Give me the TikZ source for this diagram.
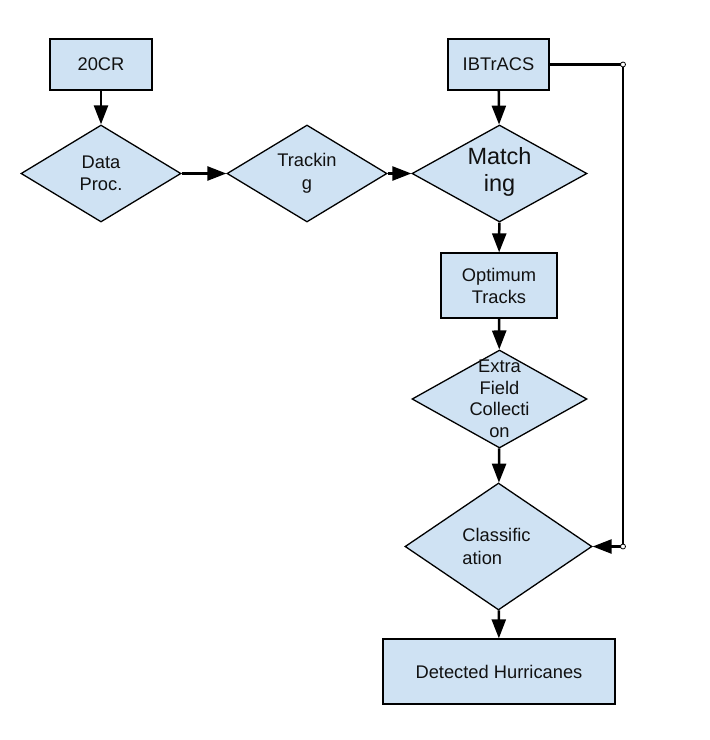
\documentclass[tikz,border=0pt]{standalone}
\usepackage{fontspec}
\setmainfont{Liberation Sans}
\usetikzlibrary{shapes.geometric,arrows.meta}
\definecolor{boxfill}{HTML}{CFE2F3}
\definecolor{txtcol}{HTML}{111111}
\tikzset{
  box/.style={draw=black, line width=1.3pt, fill=boxfill, rectangle, inner sep=0pt, text=txtcol, align=center,
    font=\fontsize{18.3}{22}\selectfont},
  dia/.style={draw=black, line width=1.3pt, fill=boxfill, diamond, inner sep=0pt},
  txt/.style={text=txtcol, align=center, inner sep=0pt, font=\fontsize{18.3}{22.5}\selectfont},
  conn/.style={line width=2.5pt, -{Triangle[length=19pt,width=14pt]}},
  plain/.style={line width=2.5pt},
  dot/.style={circle, draw=black, fill=white, line width=0.8pt, minimum size=5pt, inner sep=0pt}
}
\begin{document}
\begin{tikzpicture}[x=1pt,y=-1pt]
\useasboundingbox (0,0) rectangle (710,740);
\fill[white] (0,0) rectangle (710,740);
% nodes
\node[box, minimum width=102pt, minimum height=51pt] (cr) at (101,64.5) {20CR};
\node[box, minimum width=101pt, minimum height=51pt] (ib) at (498.5,64.5) {IBTrACS};
\node[dia, minimum width=160pt, minimum height=97pt] (dp) at (101,173.5) {};
\node[txt] at (dp.center) {Data\\Proc.};
\node[dia, minimum width=160pt, minimum height=97pt] (tr) at (307,173.5) {};
\node[txt] at (tr.center) {Trackin\\g};
\node[dia, minimum width=175pt, minimum height=97pt] (ma) at (499.5,173.5) {};
\node[txt, font=\fontsize{23.5}{27}\selectfont] at ([yshift=2pt]ma.center) {Match\\ing};
\node[box, minimum width=116pt, minimum height=65pt] (op) at (499,285.5) {Optimum\\Tracks};
\node[dia, minimum width=175pt, minimum height=98pt] (ex) at (499.5,399) {};
\node[txt, font=\fontsize{18.3}{21.5}\selectfont] at (ex.center) {Extra\\Field\\Collecti\\on};
\node[dia, minimum width=187pt, minimum height=127pt] (cl) at (498.5,546.5) {};
\node[txt, align=left] at ([xshift=-2pt]cl.center) {Classific\\ation};
\node[box, minimum width=232pt, minimum height=65pt] (dh) at (499,671.5) {Detected Hurricanes};
\coordinate (d1) at (623,64.5);
\coordinate (d2) at (623,546.5);
% connectors
\draw[conn] (cr) -- (dp);
\draw[conn] (dp) -- (tr);
\draw[conn] (tr) -- (ma);
\draw[conn] (ib) -- (ma);
\draw[conn] (ma) -- (op);
\draw[conn] (op) -- (ex);
\draw[conn] (ex) -- (cl);
\draw[conn] (cl) -- (dh);
\draw[plain] (ib.east) -- (d1) -- (d2);
\draw[conn] (d2) -- (cl.east);
\node[dot] (k1) at (d1) {};
\node[dot] (k2) at (d2) {};
\end{tikzpicture}
\end{document}
